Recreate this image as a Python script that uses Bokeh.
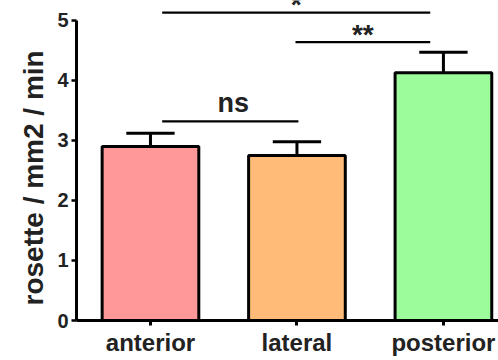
from bokeh.plotting import figure
from bokeh.models import FixedTicker, Range1d, ColumnDataSource, Title
from bokeh.core.properties import value
from bokeh.embed import file_html
from bokeh.resources import INLINE

# ---- data ----
categories = ["anterior", "lateral", "posterior"]
means = [2.90, 2.75, 4.13]
sems = [0.22, 0.23, 0.34]
colors = ["#FF9999", "#FFBB77", "#9CFC9C"]
y_ticks = [0, 1, 2, 3, 4, 5]

# significance comparisons: (from index, to index, height, label)
comparisons = [
    (0, 1, 3.32, "ns"),
    (1, 2, 4.64, "**"),
    (0, 2, 5.13, "*"),
]

FONT = "Liberation Sans"
TXT = "#222222"
xs = list(range(len(categories)))

XS, XE = -0.505, 2.376
p = figure(width=498, height=360, output_backend="svg", toolbar_location=None,
           x_range=Range1d(XS, XE), y_range=Range1d(0, 5.333),
           min_border_left=76, min_border_right=0, min_border_top=0,
           min_border_bottom=40)
p.outline_line_color = None
p.xgrid.visible = False
p.ygrid.visible = False
p.background_fill_color = "white"

src = ColumnDataSource(dict(x=xs, top=means, color=colors,
                            up=[m + s for m, s in zip(means, sems)],
                            cl=[x - 0.165 for x in xs], cr=[x + 0.165 for x in xs]))

# error whiskers (upper only)
p.segment(x0="x", y0="top", x1="x", y1="up", source=src, line_color="black", line_width=3)
p.segment(x0="cl", y0="up", x1="cr", y1="up", source=src, line_color="black", line_width=3)

p.vbar(x="x", top="top", bottom=0, width=0.66, source=src, fill_color="color",
       line_color="black", line_width=3)

# significance lines
for a, b, h, lab in comparisons:
    x0 = a + (0.08 if a == 0 else -0.01)
    x1 = b + (-0.09 if b == 2 else 0.01)
    p.segment(x0=[x0], y0=[h], x1=[x1], y1=[h], line_color="black", line_width=2.2)
    if lab == "ns":
        p.text(x=[(x0 + x1) / 2 + 0.02], y=[h + 0.06], text=[lab], text_align="center",
               text_baseline="bottom", text_font=value(FONT), text_font_style="bold",
               text_font_size="27px", text_color=TXT)
    else:
        p.text(x=[(x0 + x1) / 2], y=[h + 0.13], text=[lab], text_align="center",
               text_baseline="alphabetic", text_font=value(FONT), text_font_style="bold",
               text_font_size="28px", text_color=TXT)

# axes
p.xaxis.ticker = FixedTicker(ticks=xs)
p.xaxis.major_label_overrides = {i: c for i, c in enumerate(categories)}
p.xaxis.axis_line_width = 3
p.xaxis.major_tick_line_width = 3
p.xaxis.major_tick_out = 5
p.xaxis.major_tick_in = 0
p.xaxis.minor_tick_line_color = None
p.xaxis.major_label_text_font = FONT
p.xaxis.major_label_text_font_style = "bold"
p.xaxis.major_label_text_font_size = "24px"
p.xaxis.major_label_text_color = TXT
p.xaxis.major_label_standoff = 3

p.yaxis.ticker = FixedTicker(ticks=y_ticks)
p.yaxis.bounds = (0, 5)
p.yaxis.axis_line_width = 3
p.yaxis.major_tick_line_width = 2.5
p.yaxis.major_tick_out = 5
p.yaxis.major_tick_in = 0
p.yaxis.minor_tick_line_color = None
p.yaxis.major_label_text_font = FONT
p.yaxis.major_label_text_font_style = "bold"
p.yaxis.major_label_text_font_size = "20px"
p.yaxis.major_label_text_color = TXT
p.yaxis.major_label_standoff = 3

# y-axis title as a left-side title, shifted along the axis
ytitle = Title(text="rosette / mm2 / min", align="left", offset=15, standoff=11,
               text_font=FONT, text_font_style="bold", text_font_size="28px",
               text_color=TXT)
p.add_layout(ytitle, "left")

open("out.html", "w").write(file_html(p, INLINE))
